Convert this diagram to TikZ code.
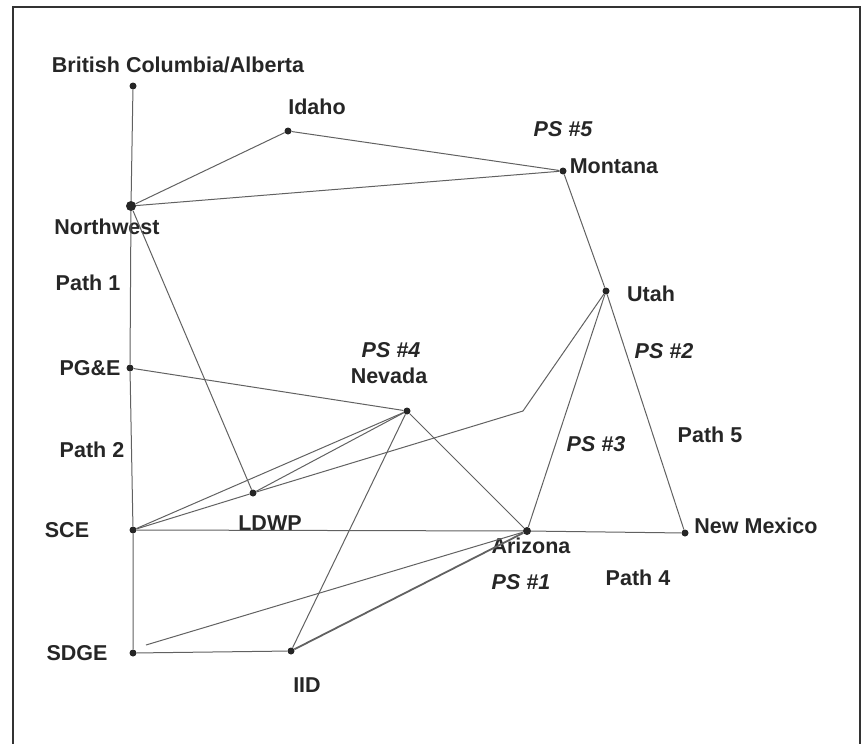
\documentclass[tikz,border=0pt]{standalone}
\usepackage{fontspec}
\setmainfont{Liberation Sans}
\usetikzlibrary{positioning}

\begin{document}
\begin{tikzpicture}[x=1pt,y=-1pt,
                    site/.style={circle,fill=black!85,inner sep=0pt,minimum size=7pt},
                    hub/.style={site,minimum size=10pt},
                    place/.style={font=\fontsize{21.5}{24}\selectfont\bfseries,inner sep=0pt,text=black!85},
                    ps/.style={place,font=\fontsize{21.5}{24}\selectfont\bfseries\itshape},
                    link/.style={draw,black!62,line width=1pt}]
    \useasboundingbox (0,0) rectangle (862,744);
    % frame
    \draw[line width=1.8pt,black!80] (13,760) -- (13,7) -- (860,7) -- (860,760);
    % control areas
    \node[site] (bc) at (133,86) {};
    \node[site] (id) at (288,131) {};
    \node[site] (mt) at (563,171) {};
    \node[hub]  (nw) at (131,206) {};
    \node[site] (ut) at (606,291) {};
    \node[site] (pge) at (130,368) {};
    \node[site] (nv) at (407,411) {};
    \node[site] (ldwp) at (253,493) {};
    \node[site] (sce) at (133,530) {};
    \node[site,minimum size=8pt] (az) at (527,531) {};
    \node[site] (nm) at (685,533) {};
    \node[site] (sdge) at (133,653) {};
    \node[site] (iid) at (291,651) {};
    \coordinate (bend) at (523,411);
    \coordinate (sdgeend) at (146,645);
    % names
    \node[place] (bclabel) at (178,65) {British Columbia/Alberta};
    \node[place] (idlabel) at (317,107) {Idaho};
    \node[place] (mtlabel) at (614,166) {Montana};
    \node[place] (nwlabel) at (107,227) {Northwest};
    \node[place] (utlabel) at (651,294) {Utah};
    \node[place] (pgelabel) at (90,368) {PG\&E};
    \node[place] (nvlabel) at (389,376) {Nevada};
    \node[place] (ldwplabel) at (270,523) {LDWP};
    \node[place] (scelabel) at (67,530) {SCE};
    \node[place] (azlabel) at (531,546) {Arizona};
    \node[place] (nmlabel) at (756,526) {New Mexico};
    \node[place] (sdgelabel) at (77,653) {SDGE};
    \node[place] (iidlabel) at (307,685) {IID};
    % paths and phase shifters
    \node[place] (path1) at (88,283) {Path 1};
    \node[place] (path2) at (92,450) {Path 2};
    \node[place] (path4) at (638,578) {Path 4};
    \node[place] (path5) at (710,435) {Path 5};
    \node[ps] (ps1) at (521,582) {PS \#1};
    \node[ps] (ps2) at (664,351) {PS \#2};
    \node[ps] (ps3) at (596,444) {PS \#3};
    \node[ps] (ps4) at (391,350) {PS \#4};
    \node[ps] (ps5) at (563,129) {PS \#5};
    % ties
    \draw[link] (bc) -- (nw) -- (pge) -- (sce) -- (sdge) -- (iid);
    \draw[link] (nw) -- (id) -- (mt) -- (nw);
    \draw[link] (mt) -- (ut) -- (nm) -- (az) -- (sce);
    \draw[link] (nw) -- (ldwp);
    \draw[link] (pge) -- (nv);
    \draw[link] (sce) -- (nv);
    \draw[link] (ldwp) -- (nv);
    \draw[link] (sce) -- (ldwp) -- (bend) -- (ut);
    \draw[link] (nv) -- (az);
    \draw[link] (nv) -- (iid);
    \draw[link] (az) -- (ut);
    \draw[link,line width=1.8pt] (iid) -- (az);
    \draw[link] (sdgeend) -- (az);
\end{tikzpicture}
\end{document}
